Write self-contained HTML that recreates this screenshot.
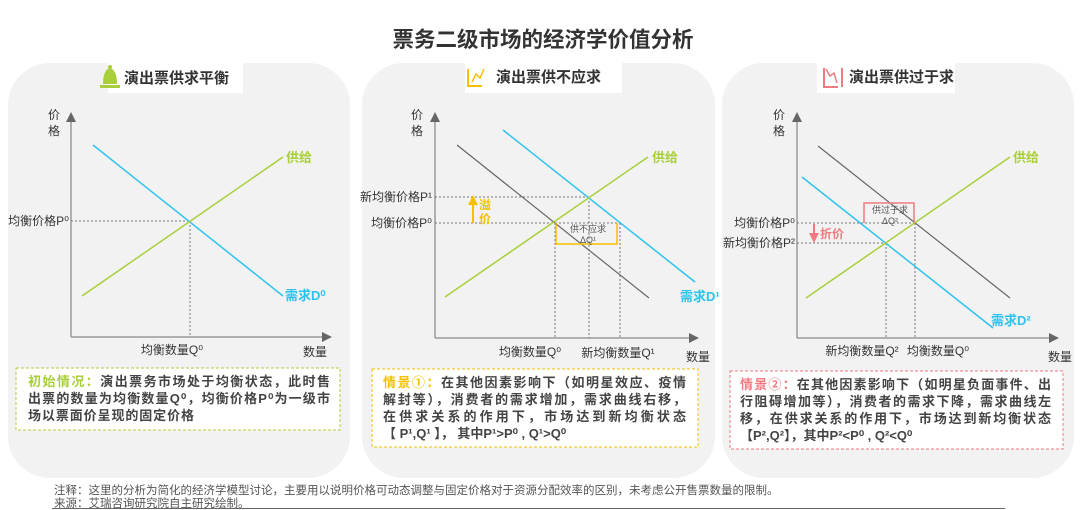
<!DOCTYPE html>
<html><head><meta charset="utf-8"><style>
html,body{margin:0;padding:0;background:#fff;width:1080px;height:510px;overflow:hidden}
svg{display:block}
text{font-family:"Liberation Sans","Noto Sans CJK SC",sans-serif}
.t{font-size:12px;fill:#333}
</style></head><body>
<svg width="1080" height="510" viewBox="0 0 1080 510" xmlns="http://www.w3.org/2000/svg">
<defs>
<marker id="ar" markerWidth="10" markerHeight="10" refX="8" refY="5" orient="auto" markerUnits="userSpaceOnUse"><path d="M0,0 L10,5 L0,10z" fill="#666"/></marker>
<marker id="ay" markerWidth="10" markerHeight="10" refX="5" refY="5" orient="auto" markerUnits="userSpaceOnUse"><path d="M0,0 L10,5 L0,10z" fill="#f5c000"/></marker>
<marker id="ad" markerWidth="10" markerHeight="10" refX="5" refY="5" orient="auto" markerUnits="userSpaceOnUse"><path d="M0,0 L10,5 L0,10z" fill="#f07a80"/></marker>
</defs>
<text x="543" y="47" text-anchor="middle" font-size="21.5" font-weight="bold" fill="#333">票务二级市场的经济学价值分析</text>

<rect x="8" y="63" width="342" height="415" rx="42" fill="#f2f2f2"/>
<rect x="362" y="63" width="353" height="415" rx="42" fill="#f2f2f2"/>
<rect x="722" y="63" width="352" height="415" rx="42" fill="#f2f2f2"/>

<!-- Panel 1 -->
<rect x="108" y="63" width="135" height="30" fill="#fff"/>
<path d="M103,84 q0,-14 7,-16 q7,2 7,16 z M100,85 h20 v3 h-20z" fill="#a8cf3a"/>
<circle cx="110" cy="67" r="2" fill="#a8cf3a"/>
<text x="124" y="83" font-size="15" font-weight="bold" fill="#333">演出票供求平衡</text>
<line x1="71" y1="337" x2="71" y2="114" stroke="#999" stroke-width="1.5" marker-end="url(#ar)"/>
<line x1="71" y1="337" x2="330" y2="337" stroke="#999" stroke-width="1.5" marker-end="url(#ar)"/>
<line x1="71" y1="221" x2="190" y2="221" stroke="#777" stroke-dasharray="2,2"/>
<line x1="190" y1="221" x2="190" y2="337" stroke="#777" stroke-dasharray="2,2"/>
<line x1="93" y1="145" x2="283" y2="296" stroke="#2ec3ef" stroke-width="1.5"/>
<line x1="82" y1="296" x2="283" y2="157" stroke="#a8cf3a" stroke-width="1.5"/>
<text class="t" x="48" y="119">价</text><text class="t" x="48" y="135">格</text>
<text class="t" x="69" y="225" text-anchor="end">均衡价格P⁰</text>
<text x="286" y="162" font-size="13" font-weight="bold" fill="#a8cf3a">供给</text>
<text x="285" y="300" font-size="13" font-weight="bold" fill="#2ec3ef">需求D⁰</text>
<text class="t" x="172" y="354" text-anchor="middle">均衡数量Q⁰</text>
<text class="t" x="303" y="356" font-size="13">数量</text>
<rect x="16" y="368" width="324" height="62" fill="#fff" stroke="#a8cf3a" stroke-dasharray="3,2"/>
<text x="28" y="386" font-size="13" font-weight="bold" fill="#444" textLength="302" lengthAdjust="spacing"><tspan fill="#a8cf3a">初始情况：</tspan>演出票务市场处于均衡状态，此时售</text>
<text x="28" y="403" font-size="13" font-weight="bold" fill="#444" textLength="302" lengthAdjust="spacing">出票的数量为均衡数量Q⁰，均衡价格P⁰为一级市</text>
<text x="28" y="420" font-size="13" font-weight="bold" fill="#444" textLength="166" lengthAdjust="spacing">场以票面价呈现的固定价格</text>

<!-- Panel 2 -->
<rect x="465" y="63" width="157" height="30" fill="#fff"/>
<path d="M468,69 v17 h14" stroke="#f5c000" stroke-width="2" fill="none"/>
<polyline points="472,82 476,74 480,78 484,69" stroke="#f5c000" stroke-width="1.5" fill="none"/>
<text x="496" y="82" font-size="15" font-weight="bold" fill="#333">演出票供不应求</text>
<line x1="435" y1="338" x2="435" y2="114" stroke="#999" stroke-width="1.5" marker-end="url(#ar)"/>
<line x1="435" y1="338" x2="697" y2="338" stroke="#999" stroke-width="1.5" marker-end="url(#ar)"/>
<g stroke="#777" stroke-dasharray="2,2">
<line x1="435" y1="197" x2="589" y2="197"/><line x1="435" y1="223" x2="620" y2="223"/>
<line x1="555" y1="223" x2="555" y2="338"/><line x1="589" y1="197" x2="589" y2="338"/><line x1="620" y1="223" x2="620" y2="338"/>
</g>
<line x1="457" y1="145" x2="649" y2="298" stroke="#666" stroke-width="1.2"/>
<line x1="503" y1="130" x2="695" y2="282" stroke="#2ec3ef" stroke-width="1.5"/>
<line x1="445" y1="297" x2="648" y2="157" stroke="#a8cf3a" stroke-width="1.5"/>
<path d="M556,223 v21 h61 v-21" stroke="#f5c000" stroke-width="1.5" fill="none"/>
<text x="588" y="232" font-size="9" fill="#555" text-anchor="middle">供不应求</text>
<text x="588" y="243" font-size="9" fill="#555" text-anchor="middle">ΔQ¹</text>
<line x1="473" y1="223" x2="473" y2="200" stroke="#f5c000" stroke-width="2" marker-end="url(#ay)"/>
<text x="479" y="209" font-size="12" font-weight="bold" fill="#f5c000">溢</text>
<text x="479" y="223" font-size="12" font-weight="bold" fill="#f5c000">价</text>
<text class="t" x="411" y="119">价</text><text class="t" x="411" y="135">格</text>
<text class="t" x="432" y="201" text-anchor="end">新均衡价格P¹</text>
<text class="t" x="432" y="227" text-anchor="end">均衡价格P⁰</text>
<text x="652" y="162" font-size="13" font-weight="bold" fill="#a8cf3a">供给</text>
<text x="680" y="301" font-size="13" font-weight="bold" fill="#2ec3ef">需求D¹</text>
<text class="t" x="530" y="356" text-anchor="middle">均衡数量Q⁰</text>
<text class="t" x="618" y="357" text-anchor="middle">新均衡数量Q¹</text>
<text class="t" x="686" y="361" font-size="13">数量</text>
<rect x="372" y="369" width="326" height="78" fill="#fff" stroke="#f5c000" stroke-dasharray="3,2"/>
<text x="383" y="387" font-size="13" font-weight="bold" fill="#444" textLength="303" lengthAdjust="spacing"><tspan fill="#f5c000">情景①：</tspan>在其他因素影响下（如明星效应、疫情</text>
<text x="383" y="404" font-size="13" font-weight="bold" fill="#444" textLength="303" lengthAdjust="spacing">解封等），消费者的需求增加，需求曲线右移，</text>
<text x="383" y="421" font-size="13" font-weight="bold" fill="#444" textLength="303" lengthAdjust="spacing">在供求关系的作用下，市场达到新均衡状态</text>
<text x="383" y="438" font-size="13" font-weight="bold" fill="#444">【 P¹,Q¹ 】， 其中P¹&gt;P⁰ , Q¹&gt;Q⁰</text>

<!-- Panel 3 -->
<rect x="817" y="63" width="138" height="30" fill="#fff"/>
<path d="M824,68 v19 h14 M842,68 v19" stroke="#f07a80" stroke-width="2" fill="none"/>
<polyline points="826,69 830,76 834,73 837,83" stroke="#f07a80" stroke-width="1.5" fill="none"/>
<text x="849" y="82" font-size="15" font-weight="bold" fill="#333">演出票供过于求</text>
<line x1="797" y1="338" x2="797" y2="114" stroke="#999" stroke-width="1.5" marker-end="url(#ar)"/>
<line x1="797" y1="338" x2="1057" y2="338" stroke="#999" stroke-width="1.5" marker-end="url(#ar)"/>
<g stroke="#777" stroke-dasharray="2,2">
<line x1="797" y1="223" x2="915" y2="223"/><line x1="797" y1="243" x2="886" y2="243"/>
<line x1="886" y1="243" x2="886" y2="338"/><line x1="915" y1="223" x2="915" y2="338"/>
</g>
<line x1="818" y1="146" x2="1010" y2="298" stroke="#666" stroke-width="1.2"/>
<line x1="802" y1="177" x2="993" y2="328" stroke="#2ec3ef" stroke-width="1.5"/>
<line x1="806" y1="298" x2="1010" y2="157" stroke="#a8cf3a" stroke-width="1.5"/>
<path d="M864,223 v-20 h50 v20" stroke="#f07a80" stroke-width="1.5" fill="none"/>
<text x="890" y="213" font-size="9" fill="#555" text-anchor="middle">供过于求</text>
<text x="890" y="224" font-size="9" fill="#555" text-anchor="middle">ΔQ²</text>
<line x1="814" y1="224" x2="814" y2="238" stroke="#f07a80" stroke-width="2" marker-end="url(#ad)"/>
<text x="820" y="238" font-size="12" font-weight="bold" fill="#f07a80">折价</text>
<text class="t" x="773" y="119">价</text><text class="t" x="773" y="135">格</text>
<text class="t" x="795" y="227" text-anchor="end">均衡价格P⁰</text>
<text class="t" x="795" y="247" text-anchor="end">新均衡价格P²</text>
<text x="1013" y="162" font-size="13" font-weight="bold" fill="#a8cf3a">供给</text>
<text x="991" y="325" font-size="13" font-weight="bold" fill="#2ec3ef">需求D²</text>
<text class="t" x="862" y="355" text-anchor="middle">新均衡数量Q²</text>
<text class="t" x="938" y="355" text-anchor="middle">均衡数量Q⁰</text>
<text class="t" x="1048" y="361" font-size="13">数量</text>
<rect x="730" y="371" width="333" height="78" fill="#fff" stroke="#f07a80" stroke-dasharray="3,2"/>
<text x="740" y="389" font-size="13" font-weight="bold" fill="#444" textLength="311" lengthAdjust="spacing"><tspan fill="#f07a80">情景②：</tspan>在其他因素影响下（如明星负面事件、出</text>
<text x="740" y="406" font-size="13" font-weight="bold" fill="#444" textLength="311" lengthAdjust="spacing">行阻碍增加等），消费者的需求下降，需求曲线左</text>
<text x="740" y="423" font-size="13" font-weight="bold" fill="#444" textLength="311" lengthAdjust="spacing">移，在供求关系的作用下，市场达到新均衡状态</text>
<text x="740" y="440" font-size="13" font-weight="bold" fill="#444">【P²,Q²】，其中P²&lt;P⁰ , Q²&lt;Q⁰</text>

<text x="54" y="494" font-size="11.5" fill="#555">注释：这里的分析为简化的经济学模型讨论，主要用以说明价格可动态调整与固定价格对于资源分配效率的区别，未考虑公开售票数量的限制。</text>
<text x="54" y="507" font-size="11.5" fill="#555">来源：艾瑞咨询研究院自主研究绘制。</text>
<line x1="52" y1="508.5" x2="1005" y2="508.5" stroke="#666" stroke-width="1"/>
</svg>
</body></html>
